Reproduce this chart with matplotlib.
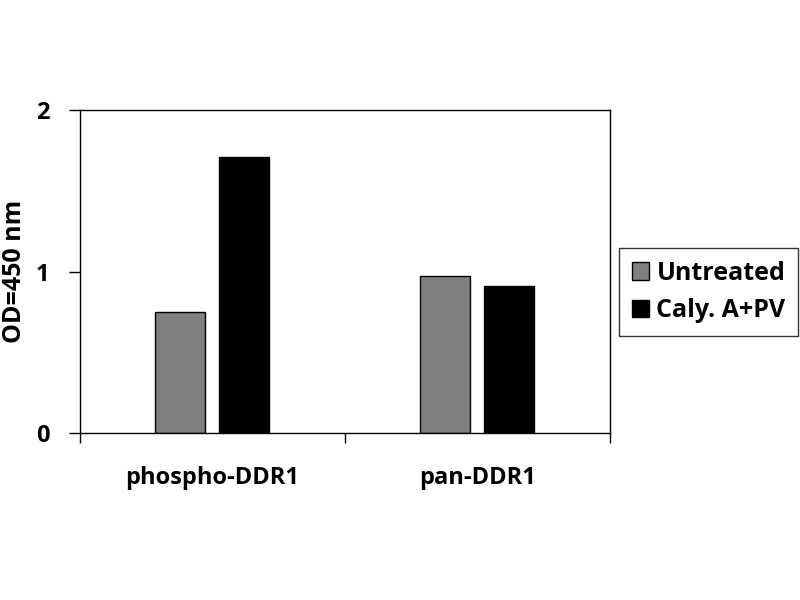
import matplotlib.pyplot as plt
import numpy as np

categories = ["phospho-DDR1", "pan-DDR1"]
untreated = [0.75, 0.97]
caly = [1.71, 0.91]
series_names = ["Untreated", "Caly. A+PV"]

plt.rcParams['font.family'] = ['Open Sans', 'DejaVu Sans']
plt.rcParams['font.weight'] = 'bold'

fig = plt.figure(figsize=(8, 6), dpi=100)
ax = fig.add_axes([0.1, 0.2783, 0.6625, 0.5383])

x = np.arange(len(categories))
w = 0.19
ax.bar(x - 0.122, untreated, w, color='#808080', edgecolor='black', linewidth=1, label=series_names[0])
ax.bar(x + 0.12, caly, w, color='black', edgecolor='black', linewidth=1, label=series_names[1])

ax.set_xlim(-0.5, 1.5)
ax.set_ylim(0, 2)
ax.set_yticks([0, 1, 2])
ax.set_yticklabels(['0', '1', '2'], fontsize=17, fontweight='bold')
ax.tick_params(axis='y', direction='out', length=8, width=1, pad=14)

ax.set_xticks(x)
ax.set_xticklabels(categories, fontsize=17, fontweight='bold')
ax.tick_params(axis='x', which='major', length=0, pad=24)
ax.set_xticks([-0.5, 0.5, 1.5], minor=True)
ax.tick_params(axis='x', which='minor', direction='out', length=7, width=1)

ax.set_ylabel('OD=450 nm', fontsize=18, fontweight='bold', labelpad=6)

for s in ax.spines.values():
    s.set_linewidth(1)
    s.set_color('black')

leg = ax.legend(loc='upper left', bbox_to_anchor=(619 / 800, 1 - 248 / 600),
                bbox_transform=fig.transFigure, frameon=True,
                fancybox=False, edgecolor='black', handlelength=0.7, handleheight=0.7,
                handletextpad=0.3, borderpad=0.5, labelspacing=0.5, borderaxespad=0,
                prop={'weight': 'bold', 'size': 18})
leg.get_frame().set_linewidth(1)

fig.savefig('out.png', dpi=100)
